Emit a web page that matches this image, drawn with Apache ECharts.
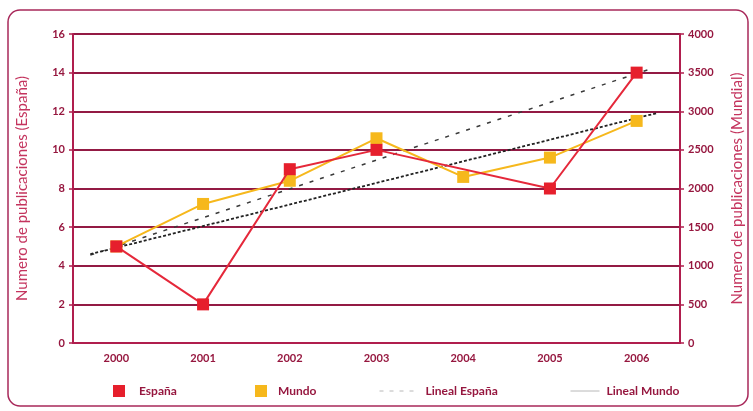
<!DOCTYPE html>
<html>
<head>
<meta charset="utf-8">
<script src="https://cdn.jsdelivr.net/npm/echarts@6/dist/echarts.min.js"></script>
<style>
  html, body { margin: 0; padding: 0; background: #ffffff; }
  #chart { width: 753px; height: 411px; }
</style>
</head>
<body>
<div id="chart"></div>
<script>
// Years on the horizontal axis
const years = ['2000', '2001', '2002', '2003', '2004', '2005', '2006'];
// Publications in Spain (left axis); 2004 has no value
const espana = [5, 2, 9, 10, null, 8, 14];
// Publications worldwide (right axis)
const mundo = [1250, 1800, 2100, 2650, 2150, 2400, 2875];
// Linear trend endpoints, [position along the years, value]
const linealEspana = [[-0.3, 4.55], [6.2, 14.25]];
const linealMundo = [[-0.3, 1150], [6.23, 2975]];
// Axis tick settings
const leftTicks = { min: 0, max: 16, interval: 2 };
const rightTicks = { min: 0, max: 4000, interval: 500 };

const maroon = '#96173f';
const axisRed = '#b01e4e';
const titleRed = '#c4345e';
const fontFam = '"Lato", "Open Sans", sans-serif';

const chart = echarts.init(document.getElementById('chart'), null, { renderer: 'canvas' });

function legendAt(left, gap, extra) {
  return Object.assign({
    top: 385,
    left: left,
    padding: 0,
    selectedMode: false,
    textStyle: {
      color: maroon, fontWeight: 'bold', fontSize: 12, fontFamily: fontFam,
      padding: [0, 0, 0, gap]
    }
  }, extra);
}

chart.setOption({
  animation: false,
  backgroundColor: '#ffffff',
  graphic: [{
    type: 'rect',
    shape: { x: 8, y: 10, width: 740, height: 396, r: 12 },
    style: { fill: 'none', stroke: '#a8285a', lineWidth: 1.5 },
    silent: true,
    z: -1
  }],
  grid: { left: 73, right: 71, top: 34, bottom: 68 },
  legend: [
    legendAt(113, 9, {
      itemWidth: 12, itemHeight: 12,
      data: [{ name: 'España', icon: 'rect' }]
    }),
    legendAt(255, 6, {
      itemWidth: 12, itemHeight: 12,
      data: [{ name: 'Mundo', icon: 'rect' }]
    }),
    legendAt(379, 7, {
      itemWidth: 34, itemHeight: 12,
      data: [{
        name: 'Lineal España',
        itemStyle: { opacity: 0 },
        lineStyle: { color: '#b8b8b8', type: [4, 6], width: 1 }
      }]
    }),
    legendAt(570, 2, {
      itemWidth: 29, itemHeight: 12,
      data: [{
        name: 'Lineal Mundo',
        itemStyle: { opacity: 0 },
        lineStyle: { color: '#b8b8b8', type: 'solid', width: 1 }
      }]
    })
  ],
  xAxis: [{
    type: 'category',
    data: years,
    boundaryGap: true,
    axisLine: { lineStyle: { color: axisRed, width: 2 } },
    axisTick: { alignWithLabel: true, length: 6, lineStyle: { color: axisRed, width: 1.5 } },
    axisLabel: { color: maroon, fontWeight: 'bold', fontSize: 11, fontFamily: fontFam, margin: 10 },
    splitLine: { show: false }
  }, {
    type: 'value',
    min: -0.5,
    max: 6.5,
    show: false
  }],
  yAxis: [{
    type: 'value',
    position: 'left',
    min: leftTicks.min, max: leftTicks.max, interval: leftTicks.interval,
    name: 'Numero de publicaciones (España)',
    nameLocation: 'middle',
    nameGap: 43,
    nameTextStyle: { color: titleRed, fontSize: 15, fontFamily: fontFam },
    axisLine: { show: true, onZero: false, lineStyle: { color: axisRed, width: 2 } },
    axisTick: { show: true, length: 4, lineStyle: { color: axisRed, width: 1.5 } },
    axisLabel: { color: maroon, fontWeight: 'bold', fontSize: 11, fontFamily: fontFam, margin: 8 },
    splitLine: { show: true, lineStyle: { color: '#931a44', width: 2 } }
  }, {
    type: 'value',
    position: 'right',
    min: rightTicks.min, max: rightTicks.max, interval: rightTicks.interval,
    name: 'Numero de publicaciones (Mundial)',
    nameLocation: 'middle',
    nameGap: 50,
    nameRotate: 90,
    nameTextStyle: { color: titleRed, fontSize: 15, fontFamily: fontFam },
    axisLine: { show: true, onZero: false, lineStyle: { color: axisRed, width: 2 } },
    axisTick: { show: true, length: 4, lineStyle: { color: axisRed, width: 1.5 } },
    axisLabel: {
      color: maroon, fontWeight: 'bold', fontSize: 11, fontFamily: fontFam, margin: 8,
      formatter: (v) => String(v)
    },
    splitLine: { show: false }
  }],
  series: [{
    name: 'Lineal España',
    type: 'line',
    xAxisIndex: 1,
    yAxisIndex: 0,
    data: linealEspana,
    symbol: 'none',
    lineStyle: { color: '#3a3a3a', width: 1.5, type: [4, 7] },
    z: 2
  }, {
    name: 'Lineal Mundo',
    type: 'line',
    xAxisIndex: 1,
    yAxisIndex: 1,
    data: linealMundo,
    symbol: 'none',
    lineStyle: { color: '#222222', width: 1.8, type: [3, 2] },
    z: 2
  }, {
    name: 'Mundo',
    type: 'line',
    xAxisIndex: 0,
    yAxisIndex: 1,
    data: mundo,
    symbol: 'rect',
    symbolSize: 12,
    itemStyle: { color: '#f6b81c' },
    lineStyle: { color: '#f6b81c', width: 2 },
    z: 3
  }, {
    name: 'España',
    type: 'line',
    xAxisIndex: 0,
    yAxisIndex: 0,
    data: espana,
    connectNulls: true,
    symbol: 'rect',
    symbolSize: 12,
    itemStyle: { color: '#e61f2c' },
    lineStyle: { color: '#e5283a', width: 2 },
    z: 4
  }]
});
</script>
</body>
</html>
